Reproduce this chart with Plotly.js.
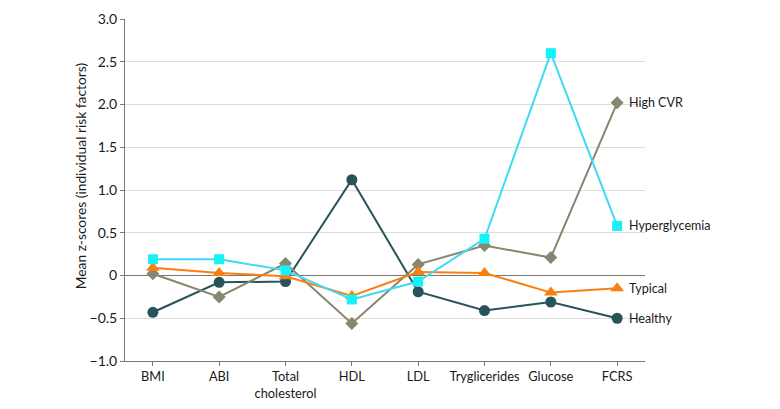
<!DOCTYPE html>
<html>
<head>
<meta charset="utf-8">
<script src="https://cdn.plot.ly/plotly-3.0.1.min.js"></script>
<style>html,body{margin:0;padding:0;background:#fff;}#chart{width:780px;height:409px;}</style>
</head>
<body>
<div id="chart"></div>
<script>
const categories = ["BMI", "ABI", "Total<br>cholesterol", "HDL", "LDL", "Tryglicerides", "Glucose", "FCRS"];
const healthy = [-0.43, -0.08, -0.07, 1.12, -0.19, -0.41, -0.31, -0.50];
const typical = [0.09, 0.03, -0.01, -0.24, 0.04, 0.03, -0.20, -0.15];
const hyperglycemia = [0.19, 0.19, 0.06, -0.28, -0.07, 0.43, 2.60, 0.58];
const highCVR = [0.02, -0.25, 0.14, -0.56, 0.13, 0.35, 0.21, 2.02];
const seriesNames = ["Healthy", "High CVR", "Typical", "Hyperglycemia"];
const yTickVals = [-1, -0.5, 0, 0.5, 1, 1.5, 2, 2.5, 3];
const yTickText = ["\u22121.0", "\u22120.5", "0", "0.5", "1.0", "1.5", "2.0", "2.5", "3.0"];
const yTitle = "Mean z-scores (individual risk factors)";

const FONT = "Lato, 'Open Sans', sans-serif";
const TXT = "#1a1a1a";
const xIdx = categories.map((c, i) => i);

function trace(vals, name, lineColor, markerColor, symbol, size) {
  return {
    x: xIdx, y: vals, name: name, type: "scatter", mode: "lines+markers",
    line: {color: lineColor, width: 2},
    marker: {color: markerColor, symbol: symbol, size: size},
    hoverinfo: "skip", cliponaxis: false
  };
}

const data = [
  trace(healthy, seriesNames[0], "#27535b", "#27535b", "circle", 11),
  trace(highCVR, seriesNames[1], "#878670", "#878670", "diamond", 10),
  trace(typical, seriesNames[2], "#fb7f10", "#fb7f10", "triangle-up", 12),
  trace(hyperglycemia, seriesNames[3], "#40d9f5", "#12f2f7", "square", 10)
];

const seriesVals = [healthy, highCVR, typical, hyperglycemia];
const annotations = seriesVals.map((v, i) => ({
  x: v.length - 1, y: v[v.length - 1], xref: "x", yref: "y",
  text: seriesNames[i], showarrow: false, xanchor: "left", yanchor: "middle",
  xshift: 10, font: {family: FONT, size: 12.5, color: TXT}
}));
annotations.push({
  x: 0, y: 0.54, xref: "paper", yref: "paper", xshift: -45,
  text: yTitle, textangle: -90, showarrow: false,
  xanchor: "center", yanchor: "middle",
  font: {family: FONT, size: 13.8, color: TXT}
});

const layout = {
  width: 780, height: 409,
  margin: {l: 125, r: 135, t: 19, b: 48},
  paper_bgcolor: "#fff", plot_bgcolor: "#fff",
  showlegend: false,
  font: {family: FONT, size: 12.5, color: TXT},
  xaxis: {
    range: [-0.42, 7.42],
    tickvals: xIdx, ticktext: categories,
    showgrid: false, zeroline: false,
    showline: true, linecolor: "#777", linewidth: 1,
    ticks: "outside", ticklen: 4, tickcolor: "#777",
    tickfont: {family: FONT, size: 12.8, color: TXT},
    fixedrange: true
  },
  yaxis: {
    range: [-1, 3],
    tickvals: yTickVals, ticktext: yTickText,
    showgrid: true, gridcolor: "#dcdcdc", gridwidth: 1,
    zeroline: true, zerolinecolor: "#777", zerolinewidth: 1,
    showline: true, linecolor: "#777", linewidth: 1,
    ticks: "outside", ticklen: 4, tickcolor: "#777",
    tickfont: {family: FONT, size: 14, color: TXT},
    fixedrange: true
  },
  annotations: annotations
};

Plotly.newPlot("chart", data, layout, {displayModeBar: false, staticPlot: true});
</script>
</body>
</html>
